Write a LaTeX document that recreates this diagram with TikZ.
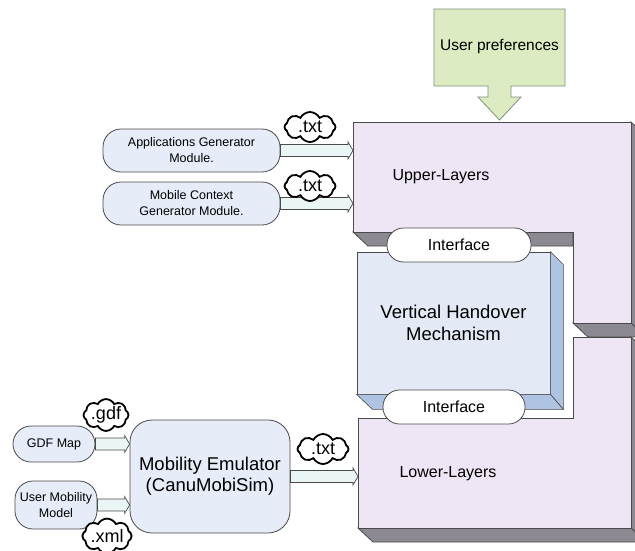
\documentclass[tikz,border=0pt]{standalone}
\usepackage{fontspec}
\setmainfont{Liberation Sans}
\usetikzlibrary{shapes.symbols,calc}
\definecolor{lay}{HTML}{EEE6F4}
\definecolor{band}{HTML}{8D8992}
\definecolor{boxb}{HTML}{E6ECF8}
\definecolor{vhmf}{HTML}{E3EAF6}
\definecolor{vhms}{HTML}{AFC3E2}
\definecolor{grn}{HTML}{DCEBC2}
\definecolor{grnedge}{HTML}{7F8F7A}
\definecolor{arr}{HTML}{EAF5F6}
\definecolor{edge}{HTML}{4A4A4A}
\newcommand{\blockarr}[2]{%
  \path[draw=edge, fill=arr, line width=0.7pt] let \p1=(#1), \p2=(#2) in
    (\x1,\y1+6pt) -- (\x2-5pt,\y1+6pt) -- (\x2-5pt,\y1+8.5pt) -- (\x2,\y1)
    -- (\x2-5pt,\y1-8.5pt) -- (\x2-5pt,\y1-6pt) -- (\x1,\y1-6pt) -- cycle;}
\begin{document}
\begin{tikzpicture}[x=1pt,y=-1pt,
  modbox/.style={draw=edge, fill=boxb, line width=0.8pt, rounded corners=18pt,
    align=center, inner sep=2pt},
  smalltxt/.style={font=\fontsize{12.5}{16}\selectfont},
  cloudbox/.style={cloud, cloud puffs=8, cloud puff arc=125, aspect=1.8,
    draw=black, line width=1.8pt, fill=white, inner sep=0pt,
    font=\fontsize{18}{18}\selectfont},
  iface/.style={draw=edge, fill=white, line width=0.8pt, rounded corners=16.5pt,
    minimum height=34pt, font=\fontsize{16}{18}\selectfont},
  layeredge/.style={draw=edge, line width=0.8pt},
  laytxt/.style={anchor=west, font=\fontsize{16}{18}\selectfont}]
\useasboundingbox (0,0) rectangle (635,550);
\clip (0,0) rectangle (635,550);

% ---------- Upper layers ----------
\path[fill=band, layeredge] (631,122) -- (646,136) -- (646,337) -- (631,323) -- cycle;
\path[fill=band, layeredge] (573,323) -- (631,323) -- (646,337) -- (588,337) -- cycle;
\path[fill=band, layeredge] (353,232) -- (573,232) -- (573,246) -- (368,246) -- cycle;
\path[fill=lay, layeredge] (353,122) -- (631,122) -- (631,323) -- (573,323) -- (573,232) -- (353,232) -- cycle;
\coordinate (ULedge) at (353,0);

% ---------- Lower layers ----------
\path[fill=band, layeredge] (631,337) -- (646,351) -- (646,542) -- (631,528) -- cycle;
\path[fill=band, layeredge] (358,528) -- (631,528) -- (646,542) -- (373,542) -- cycle;
\path[fill=lay, layeredge] (573,337) -- (631,337) -- (631,528) -- (358,528) -- (358,418) -- (573,418) -- cycle;
\coordinate (LLedge) at (358,0);

\node[laytxt] (ultxt) at (389,177) {Upper-Layers};
\node[laytxt] (lltxt) at (396,474) {Lower-Layers};

% ---------- Vertical handover ----------
\node[draw=edge, fill=vhmf, line width=0.8pt, minimum width=193pt, minimum height=142pt,
  align=center, font=\fontsize{18.5}{22}\selectfont] (vhm) at (453.5,323)
  {Vertical Handover\\Mechanism};
\path[fill=vhms, draw=edge, line width=0.6pt] (vhm.north east) -- ++(13,13) -- ($(vhm.south east)+(13,15)$) -- ($(vhm.south east)$) -- cycle;
\path[fill=vhms, draw=edge, line width=0.6pt] (vhm.south west) -- (vhm.south east) -- ++(13,15) -- ($(vhm.south west)+(16,15)$) -- cycle;

\node[iface, minimum width=144pt] (if1) at (459,245) {Interface};
\node[iface, minimum width=142pt] (if2) at (454,407) {Interface};

% ---------- User preferences ----------
\path[draw=grnedge, fill=grn, line width=0.8pt] (434,9) -- (565,9) -- (565,86) -- (511,86) -- (511,97) -- (521,97)
  -- (499.5,120) -- (478,97) -- (488,97) -- (488,86) -- (434,86) -- cycle;
\node[font=\fontsize{15.5}{18}\selectfont] (pref) at (499.5,46) {User preferences};

% ---------- Upper-left modules ----------
\node[modbox, smalltxt, minimum width=177pt, minimum height=43pt] (app) at (191.5,150.5)
  {Applications Generator\\Module.};
\node[modbox, smalltxt, minimum width=177pt, minimum height=43pt] (mcg) at (191.5,203.5)
  {Mobile Context\\Generator Module.};
\blockarr{app.east}{app.east -| ULedge}
\blockarr{mcg.east}{mcg.east -| ULedge}
\node[cloudbox, minimum width=51pt, minimum height=30pt] (c1) at (310,127) {.txt};
\node[cloudbox, minimum width=51pt, minimum height=30pt] (c2) at (310,186) {.txt};

% ---------- Mobility ----------
\node[modbox, smalltxt, minimum width=82pt, minimum height=36pt] (gdf) at (54,444) {GDF Map};
\node[modbox, smalltxt, minimum width=82pt, minimum height=48pt] (umm) at (56,505)
  {User Mobility\\Model};
\node[modbox, rounded corners=22pt, minimum width=160pt, minimum height=113pt,
  font=\fontsize{18.5}{21}\selectfont] (me) at (210,476.5)
  {Mobility Emulator\\(CanuMobiSim)};
\blockarr{gdf.east}{gdf.east -| me.west}
\blockarr{umm.east}{umm.east -| me.west}
\blockarr{me.east}{me.east -| LLedge}
\node[cloudbox, minimum width=45pt, minimum height=28pt] (c3) at (106,415) {.gdf};
\node[cloudbox, minimum width=45pt, minimum height=28pt] (c4) at (107,536) {.xml};
\node[cloudbox, minimum width=51pt, minimum height=30pt] (c5) at (323,449) {.txt};
\end{tikzpicture}
\end{document}
